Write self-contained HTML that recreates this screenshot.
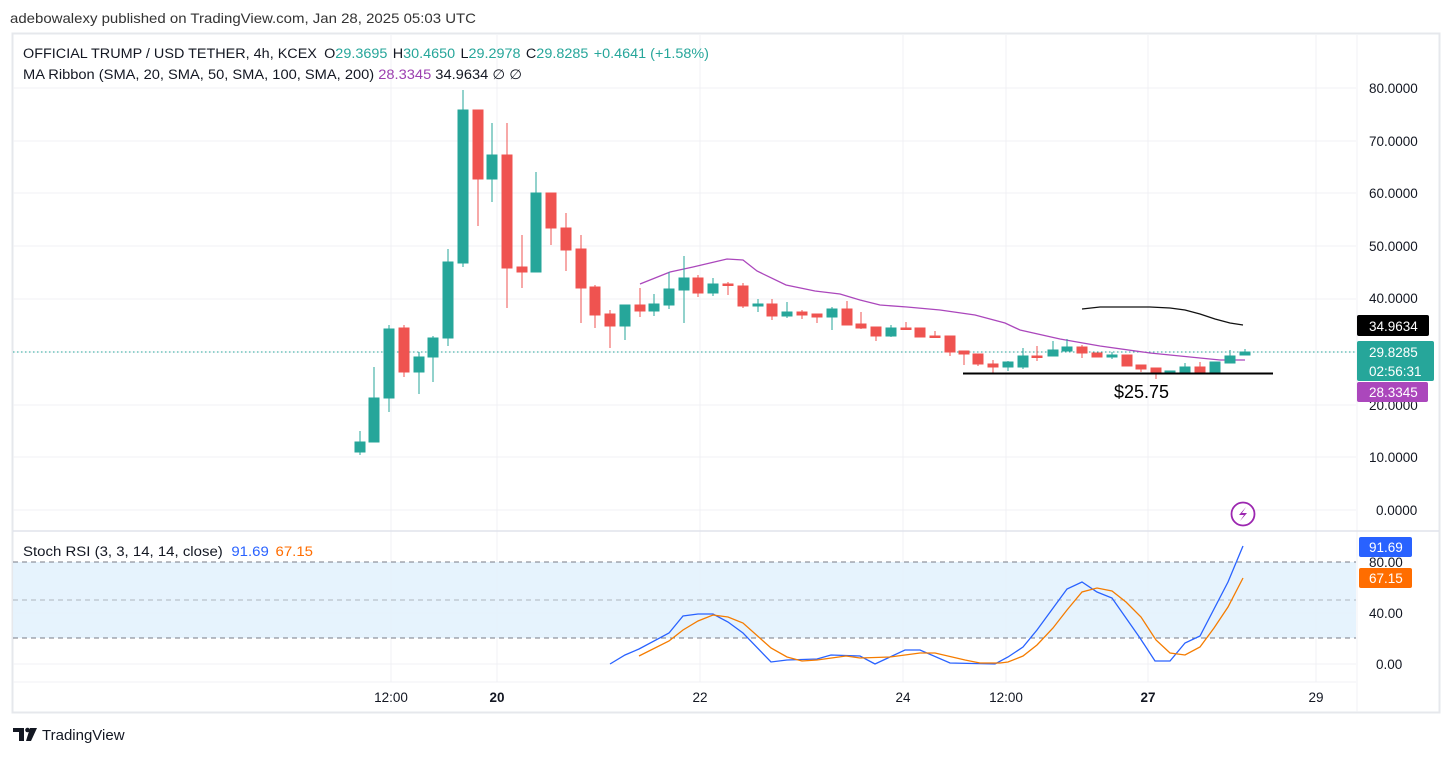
<!DOCTYPE html>
<html><head><meta charset="utf-8"><style>
html,body{margin:0;padding:0;background:#fff;}
body{width:1453px;height:756px;overflow:hidden;font-family:"Liberation Sans",sans-serif;}
</style></head><body>
<svg width="1453" height="756" viewBox="0 0 1453 756" xmlns="http://www.w3.org/2000/svg" font-family="Liberation Sans, sans-serif">
<rect width="1453" height="756" fill="#fff"/>
<text x="10" y="23" font-size="14" fill="#333" textLength="466" lengthAdjust="spacingAndGlyphs">adebowalexy published on TradingView.com, Jan 28, 2025 05:03 UTC</text>
<rect x="12.5" y="33.5" width="1427" height="679" fill="none" stroke="#e6e8ec" stroke-width="2"/>
<g stroke="#f0f1f4" stroke-width="1">
<line x1="13" y1="88" x2="1356" y2="88"/><line x1="13" y1="141" x2="1356" y2="141"/><line x1="13" y1="193" x2="1356" y2="193"/><line x1="13" y1="246" x2="1356" y2="246"/><line x1="13" y1="299" x2="1356" y2="299"/><line x1="13" y1="352" x2="1356" y2="352"/><line x1="13" y1="405" x2="1356" y2="405"/><line x1="13" y1="457" x2="1356" y2="457"/><line x1="13" y1="510" x2="1356" y2="510"/>
<line x1="391" y1="35" x2="391" y2="682"/><line x1="497" y1="35" x2="497" y2="682"/><line x1="700" y1="35" x2="700" y2="682"/><line x1="903" y1="35" x2="903" y2="682"/><line x1="1006" y1="35" x2="1006" y2="682"/><line x1="1148" y1="35" x2="1148" y2="682"/><line x1="1316" y1="35" x2="1316" y2="682"/>
<line x1="13" y1="613" x2="1356" y2="613"/><line x1="13" y1="664" x2="1356" y2="664"/>
</g>
<line x1="1357" y1="35" x2="1357" y2="712" stroke="#f0f1f4"/>
<line x1="13" y1="531" x2="1439" y2="531" stroke="#e0e3eb" stroke-width="1.5"/>
<line x1="13" y1="682" x2="1356" y2="682" stroke="#f0f1f4"/>
<text x="23" y="58" font-size="13.5" fill="#131722" textLength="686" lengthAdjust="spacingAndGlyphs">OFFICIAL TRUMP / USD TETHER, 4h, KCEX <tspan dx="3">O</tspan><tspan fill="#26a69a">29.3695</tspan><tspan dx="5">H</tspan><tspan fill="#26a69a">30.4650</tspan><tspan dx="5">L</tspan><tspan fill="#26a69a">29.2978</tspan><tspan dx="5">C</tspan><tspan fill="#26a69a">29.8285</tspan><tspan dx="5" fill="#26a69a">+0.4641 (+1.58%)</tspan></text>
<text x="23" y="79" font-size="13.5" fill="#131722" textLength="499" lengthAdjust="spacingAndGlyphs">MA Ribbon (SMA, 20, SMA, 50, SMA, 100, SMA, 200) <tspan fill="#9c3fb0">28.3345</tspan>  34.9634  ∅  ∅</text>
<line x1="13" y1="352" x2="1356" y2="352" stroke="#26a69a" stroke-dasharray="1.5 2.5" stroke-width="1"/>
<polyline fill="none" stroke="#ab47bc" stroke-width="1.3" points="640,284 670,272 693,267 727,259 743,260 757,271 786,285 815,291 840,294 860,300 880,305 907,307 940,310 975,315 1005,323 1020,330 1060,339 1100,346 1150,353 1200,358 1220,360 1245,360"/>
<polyline fill="none" stroke="#111" stroke-width="1.3" points="1082,309 1100,307 1150,307 1170,308 1185,310 1200,314 1215,319 1230,323 1243,325"/>
<g stroke-width="1">
<g fill="#26a69a" stroke="#26a69a">
<line x1="360" y1="431" x2="360" y2="455"/><rect x="355" y="442" width="10" height="10"/>
<line x1="374" y1="367" x2="374" y2="442"/><rect x="369" y="398" width="10" height="44"/>
<line x1="389" y1="325" x2="389" y2="412"/><rect x="384" y="329" width="10" height="69"/>
<line x1="419" y1="352" x2="419" y2="394"/><rect x="414" y="357" width="10" height="15"/>
<line x1="433" y1="336" x2="433" y2="382"/><rect x="428" y="338" width="10" height="19"/>
<line x1="448" y1="249" x2="448" y2="346"/><rect x="443" y="262" width="10" height="76"/>
<line x1="463" y1="90" x2="463" y2="267"/><rect x="458" y="110" width="10" height="153"/>
<line x1="492" y1="123" x2="492" y2="202"/><rect x="487" y="155" width="10" height="24"/>
<line x1="536" y1="172" x2="536" y2="272"/><rect x="531" y="193" width="10" height="79"/>
<line x1="625" y1="305" x2="625" y2="340"/><rect x="620" y="305" width="10" height="21"/>
<line x1="654" y1="294" x2="654" y2="316"/><rect x="649" y="304" width="10" height="7"/>
<line x1="669" y1="272" x2="669" y2="309"/><rect x="664" y="289" width="10" height="16"/>
<line x1="684" y1="256" x2="684" y2="323"/><rect x="679" y="278" width="10" height="12"/>
<line x1="713" y1="278" x2="713" y2="296"/><rect x="708" y="284" width="10" height="9"/>
<line x1="758" y1="299" x2="758" y2="312"/><rect x="753" y="304" width="10" height="2"/>
<line x1="787" y1="302" x2="787" y2="318"/><rect x="782" y="312" width="10" height="4"/>
<line x1="832" y1="307" x2="832" y2="330"/><rect x="827" y="309" width="10" height="8"/>
<line x1="891" y1="325" x2="891" y2="337"/><rect x="886" y="328" width="10" height="8"/>
<line x1="1008" y1="361" x2="1008" y2="371"/><rect x="1003" y="362" width="10" height="5"/>
<line x1="1023" y1="348" x2="1023" y2="369"/><rect x="1018" y="356" width="10" height="11"/>
<line x1="1053" y1="341" x2="1053" y2="356"/><rect x="1048" y="350" width="10" height="6"/>
<line x1="1067" y1="339" x2="1067" y2="351"/><rect x="1062" y="347" width="10" height="4"/>
<line x1="1112" y1="352" x2="1112" y2="359"/><rect x="1107" y="355" width="10" height="2"/>
<line x1="1170" y1="371" x2="1170" y2="373"/><rect x="1165" y="371" width="10" height="2"/>
<line x1="1185" y1="363" x2="1185" y2="373"/><rect x="1180" y="367" width="10" height="6"/>
<line x1="1215" y1="362" x2="1215" y2="373"/><rect x="1210" y="362" width="10" height="11"/>
<line x1="1230" y1="350" x2="1230" y2="363"/><rect x="1225" y="356" width="10" height="7"/>
<line x1="1245" y1="349" x2="1245" y2="355"/><rect x="1240" y="352" width="10" height="3"/>
</g>
<g fill="#ef5350" stroke="#ef5350">
<line x1="404" y1="325" x2="404" y2="377"/><rect x="399" y="328" width="10" height="44"/>
<line x1="478" y1="110" x2="478" y2="226"/><rect x="473" y="110" width="10" height="69"/>
<line x1="507" y1="123" x2="507" y2="308"/><rect x="502" y="155" width="10" height="113"/>
<line x1="522" y1="235" x2="522" y2="288"/><rect x="517" y="267" width="10" height="5"/>
<line x1="551" y1="193" x2="551" y2="245"/><rect x="546" y="193" width="10" height="35"/>
<line x1="566" y1="213" x2="566" y2="271"/><rect x="561" y="228" width="10" height="22"/>
<line x1="581" y1="235" x2="581" y2="323"/><rect x="576" y="249" width="10" height="39"/>
<line x1="595" y1="285" x2="595" y2="328"/><rect x="590" y="287" width="10" height="28"/>
<line x1="610" y1="310" x2="610" y2="348"/><rect x="605" y="314" width="10" height="12"/>
<line x1="640" y1="288" x2="640" y2="317"/><rect x="635" y="305" width="10" height="6"/>
<line x1="698" y1="275" x2="698" y2="297"/><rect x="693" y="278" width="10" height="15"/>
<line x1="728" y1="282" x2="728" y2="295"/><rect x="723" y="284" width="10" height="1.5"/>
<line x1="743" y1="283" x2="743" y2="308"/><rect x="738" y="286" width="10" height="20"/>
<line x1="772" y1="299" x2="772" y2="320"/><rect x="767" y="304" width="10" height="12"/>
<line x1="802" y1="310" x2="802" y2="319"/><rect x="797" y="312" width="10" height="3"/>
<line x1="817" y1="314" x2="817" y2="323"/><rect x="812" y="314" width="10" height="3"/>
<line x1="847" y1="301" x2="847" y2="325"/><rect x="842" y="309" width="10" height="16"/>
<line x1="861" y1="312" x2="861" y2="329"/><rect x="856" y="324" width="10" height="4"/>
<line x1="876" y1="327" x2="876" y2="341"/><rect x="871" y="327" width="10" height="9"/>
<line x1="906" y1="322" x2="906" y2="330"/><rect x="901" y="328" width="10" height="1.5"/>
<line x1="920" y1="328" x2="920" y2="337"/><rect x="915" y="328" width="10" height="9"/>
<line x1="935" y1="331" x2="935" y2="337"/><rect x="930" y="336" width="10" height="1.5"/>
<line x1="950" y1="336" x2="950" y2="356"/><rect x="945" y="336" width="10" height="16"/>
<line x1="964" y1="351" x2="964" y2="365"/><rect x="959" y="351" width="10" height="3"/>
<line x1="978" y1="354" x2="978" y2="366"/><rect x="973" y="354" width="10" height="10"/>
<line x1="993" y1="360" x2="993" y2="373"/><rect x="988" y="364" width="10" height="3"/>
<line x1="1037" y1="346" x2="1037" y2="361"/><rect x="1032" y="356" width="10" height="1.5"/>
<line x1="1082" y1="345" x2="1082" y2="358"/><rect x="1077" y="347" width="10" height="6"/>
<line x1="1097" y1="353" x2="1097" y2="357"/><rect x="1092" y="353" width="10" height="4"/>
<line x1="1127" y1="355" x2="1127" y2="366"/><rect x="1122" y="355" width="10" height="11"/>
<line x1="1141" y1="365" x2="1141" y2="372"/><rect x="1136" y="365" width="10" height="4"/>
<line x1="1156" y1="368" x2="1156" y2="379"/><rect x="1151" y="368" width="10" height="5"/>
<line x1="1200" y1="362" x2="1200" y2="373"/><rect x="1195" y="367" width="10" height="6"/>
</g>
</g>
<line x1="963" y1="373.5" x2="1273" y2="373.5" stroke="#000" stroke-width="2"/>
<text x="1114" y="398" font-size="18" fill="#000">$25.75</text>
<circle cx="1243" cy="514" r="11.5" fill="#fff" stroke="#9c27b0" stroke-width="1.8"/>
<path d="M1246 507 L1239 515 L1244 515 L1240 521 L1247 513 L1242 513 Z" fill="#9c27b0"/>
<g font-size="13.5" fill="#131722">
<text x="1369" y="93">80.0000</text><text x="1369" y="146">70.0000</text><text x="1369" y="198">60.0000</text><text x="1369" y="251">50.0000</text><text x="1369" y="303">40.0000</text><text x="1369" y="410">20.0000</text><text x="1369" y="462">10.0000</text><text x="1376" y="515">0.0000</text>
<text x="1369" y="567">80.00</text><text x="1369" y="618">40.00</text><text x="1376" y="669">0.00</text>
</g>
<rect x="1357" y="315" width="72" height="21" rx="2" fill="#000"/>
<text x="1369" y="331" font-size="13.5" fill="#fff">34.9634</text>
<rect x="1357" y="341" width="77" height="40" rx="2" fill="#26a69a"/>
<text x="1369" y="357" font-size="13.5" fill="#fff">29.8285</text>
<text x="1369" y="376" font-size="13.5" fill="#fff">02:56:31</text>
<rect x="1357" y="382" width="71" height="20" rx="2" fill="#ab47bc"/>
<text x="1369" y="397" font-size="13.5" fill="#fff">28.3345</text>
<rect x="13" y="562" width="1343" height="76" fill="#e3f2fd" opacity="0.9"/>
<line x1="13" y1="562" x2="1356" y2="562" stroke="#787b86" stroke-dasharray="5 4"/>
<line x1="13" y1="600" x2="1356" y2="600" stroke="#9598a1" stroke-dasharray="5 4" stroke-opacity="0.7"/>
<line x1="13" y1="638" x2="1356" y2="638" stroke="#787b86" stroke-dasharray="5 4"/>
<text x="23" y="556" font-size="13.5" fill="#131722" textLength="290" lengthAdjust="spacingAndGlyphs">Stoch RSI (3, 3, 14, 14, close) <tspan dx="4" fill="#2962ff">91.69</tspan><tspan dx="6" fill="#ff6d00">67.15</tspan></text>
<polyline fill="none" stroke="#2962ff" stroke-width="1.3" points="610,664 625,655 639,649 669,633 683,616 698,614 713,614 728,622 743,633 771,662 787,660 817,659 831,655 860,656 875,664 905,650 920,650 950,663 995,664 1008,657 1023,647 1037,630 1067,589 1082,582 1097,592 1112,598 1140,638 1155,661 1170,661 1185,643 1200,636 1228,582 1243,546"/>
<polyline fill="none" stroke="#f57c00" stroke-width="1.3" points="639,656 669,641 683,630 698,621 713,615 728,617 743,623 771,648 787,657 802,661 817,660 846,656 860,658 890,657 920,653 935,653 965,660 980,663 1000,663 1008,662 1023,656 1037,645 1053,628 1067,610 1082,592 1097,588 1112,591 1126,602 1141,617 1156,640 1170,653 1185,655 1200,647 1214,628 1228,607 1243,578"/>
<rect x="1359" y="537" width="53" height="20" rx="2" fill="#2962ff"/>
<text x="1369" y="552" font-size="13.5" fill="#fff">91.69</text>
<rect x="1359" y="568" width="53" height="20" rx="2" fill="#ff6d00"/>
<text x="1369" y="583" font-size="13.5" fill="#fff">67.15</text>
<g font-size="13.5" fill="#131722" text-anchor="middle">
<text x="391" y="702">12:00</text><text x="497" y="702" font-weight="bold">20</text><text x="700" y="702">22</text><text x="903" y="702">24</text><text x="1006" y="702">12:00</text><text x="1148" y="702" font-weight="bold">27</text><text x="1316" y="702">29</text>
</g>
<path d="M13 728 H24 V741 H19 V732 H13 Z" fill="#131722"/>
<circle cx="27.5" cy="730" r="2.3" fill="#131722"/>
<path d="M30 728 H37 L31 741 H26 Z" fill="#131722"/>
<text x="42" y="740" font-size="15" fill="#131722">TradingView</text>
</svg>
</body></html>
